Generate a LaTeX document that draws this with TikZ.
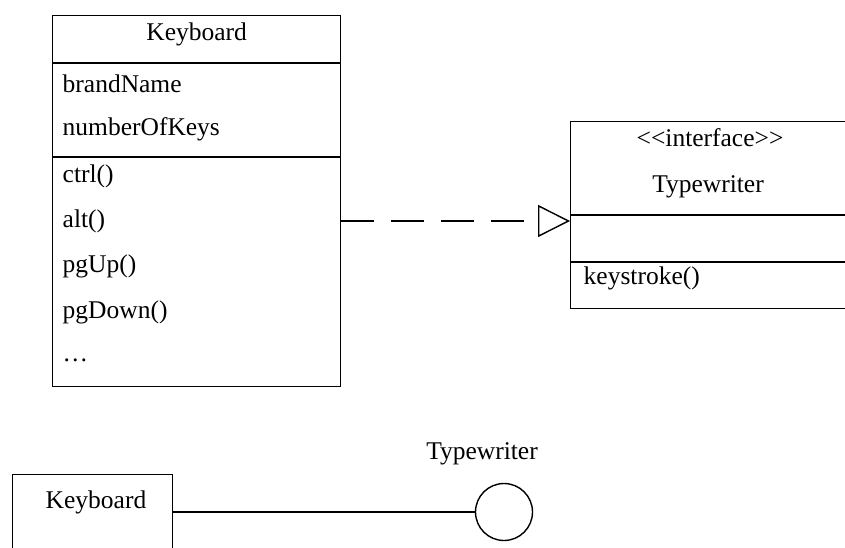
\documentclass[tikz,border=0pt]{standalone}
\usepackage{fontspec}
\setmainfont{Liberation Serif}
\usetikzlibrary{arrows.meta}

\begin{document}
\begin{tikzpicture}[x=1pt,y=-1pt,line width=1.4pt,
  every node/.style={font=\fontsize{25.5}{30}\selectfont},
  box/.style={draw,anchor=north west,inner sep=0pt},
  member/.style={anchor=west,inner sep=0pt}]

\useasboundingbox (0,0) rectangle (845,548);

% class Keyboard
\node[box,minimum width=288pt,minimum height=371pt] (kbd) at (52,15) {};
\draw (kbd.west |- 0,63) -- (kbd.east |- 0,63);
\draw (kbd.west |- 0,157) -- (kbd.east |- 0,157);
\node (kbdname) at (kbd.north |- 0,34) {Keyboard};
\node[member] (brand) at (62,84) {brandName};
\node[member] (keys) at (62,129) {numberOfKeys};
\node[member] (ctrl) at (62,176) {ctrl()};
\node[member] (alt) at (62,221) {alt()};
\node[member] (pgup) at (62,266) {pgUp()};
\node[member] (pgdown) at (62,312) {pgDown()};
\node[member] (more) at (62,360) {\dots};

% interface Typewriter
\node[box,minimum width=280pt,minimum height=187pt] (iface) at (570,121) {};
\draw (iface.west |- 0,215) -- (iface.east |- 0,215);
\draw (iface.west |- 0,262) -- (iface.east |- 0,262);
\node (stereo) at (710,138) {<{}<interface>{}>};
\node (ifacename) at (708,187) {Typewriter};
\node[member] (stroke) at (583,278) {keystroke()};

\draw[dash pattern=on 33pt off 17pt,-{Triangle[open,length=32pt,width=32pt]}]
  (kbd.east |- alt) -- (iface.west |- alt);

% lollipop form
\node[box,minimum width=160pt,minimum height=100pt] (kbd2) at (12,474) {};
\node (kbd2name) at (96,502) {Keyboard};
\node[draw,circle,minimum size=57pt,inner sep=0pt] (lolly) at (504,512) {};
\node (lollyname) at (482,454) {Typewriter};
\draw (kbd2.east |- lolly) -- (lolly.west);

\end{tikzpicture}
\end{document}
